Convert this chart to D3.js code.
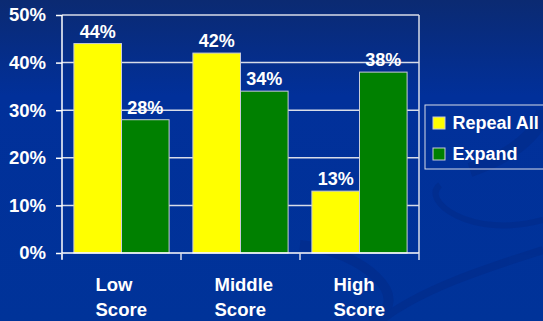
<!DOCTYPE html>
<html>
<head>
<meta charset="utf-8">
<script src="https://cdn.jsdelivr.net/npm/d3@7"></script>
<style>
  body { margin: 0; background: #003399; }
  svg { display: block; font-family: "Liberation Sans", Arial, sans-serif; font-weight: bold; }
</style>
</head>
<body>
<svg width="543" height="321"></svg>
<script>
// chart data
const categories = ['Low|Score', 'Middle|Score', 'High|Score'];
const seriesNames = ['Repeal All', 'Expand'];
const repealAll = [44, 42, 13];
const expand = [28, 34, 38];
const yTicks = [0, 10, 20, 30, 40, 50];
const colors = ['#ffff00', '#008000'];

(function () {
  const svg = d3.select('svg');
  const width = Number(svg.attr('width'));
  const height = Number(svg.attr('height'));

  // background gradient + swoosh
  const defs = svg.append('defs');
  const grad = defs.append('linearGradient')
    .attr('id', 'bg').attr('x1', 0).attr('y1', 0).attr('x2', 0).attr('y2', 1);
  grad.append('stop').attr('offset', '0%').attr('stop-color', '#0b2a72');
  grad.append('stop').attr('offset', '30%').attr('stop-color', '#01309a');
  grad.append('stop').attr('offset', '100%').attr('stop-color', '#003399');
  svg.append('rect').attr('width', width).attr('height', height).attr('fill', 'url(#bg)');

  const swoosh = svg.append('g').attr('fill', 'none').attr('stroke', '#022c8c').attr('opacity', 0.7);
  swoosh.append('path').attr('stroke-width', 10)
    .attr('d', 'M 300 245 C 360 250, 420 300, 370 321');
  swoosh.append('path').attr('stroke-width', 6)
    .attr('d', 'M 440 185 C 420 200, 470 240, 543 220');
  swoosh.append('path').attr('stroke-width', 8)
    .attr('d', 'M 543 250 C 480 270, 420 290, 380 321');
  swoosh.append('path').attr('stroke-width', 14)
    .attr('d', 'M 470 170 C 530 150, 543 120, 543 110');

  const margin = {left: 62, right: 419, top: 15, bottom: 253};

  const x = d3.scaleBand().domain(categories)
    .range([margin.left, margin.right]).paddingInner(0.2).paddingOuter(0.1);
  const xs = d3.scaleBand().domain(seriesNames).range([0, x.bandwidth()]);
  const y = d3.scaleLinear().domain([0, 50]).range([margin.bottom, margin.top]);

  const lineCol = '#d8dce8';

  // gridlines
  svg.append('g').selectAll('line').data(yTicks.slice(1)).join('line')
    .attr('x1', margin.left).attr('x2', margin.right)
    .attr('y1', d => y(d)).attr('y2', d => y(d))
    .attr('stroke', lineCol).attr('stroke-width', 1.5);
  // right frame
  svg.append('line').attr('x1', margin.right).attr('x2', margin.right)
    .attr('y1', margin.top).attr('y2', margin.bottom)
    .attr('stroke', lineCol).attr('stroke-width', 1.5);

  // bars
  const series = [repealAll, expand];
  series.forEach((vals, si) => {
    svg.append('g').selectAll('rect').data(vals).join('rect')
      .attr('x', (d, i) => x(categories[i]) + xs(seriesNames[si]))
      .attr('y', d => y(d))
      .attr('width', xs.bandwidth())
      .attr('height', d => y(0) - y(d))
      .attr('fill', colors[si])
      .attr('stroke', '#c8ccd8').attr('stroke-width', 1);
    svg.append('g').selectAll('text').data(vals).join('text')
      .attr('x', (d, i) => x(categories[i]) + xs(seriesNames[si]) + xs.bandwidth() / 2)
      .attr('y', d => y(d) - 6)
      .attr('text-anchor', 'middle').attr('fill', '#fff').attr('font-size', 18)
      .text(d => d + '%');
  });

  // y axis
  const yAxis = svg.append('g').attr('transform', `translate(${margin.left},0)`)
    .call(d3.axisLeft(y).tickValues(yTicks).tickFormat(d => d + '%').tickSize(6).tickPadding(10));
  yAxis.select('.domain').attr('stroke', '#fff').attr('stroke-width', 1.5)
    .attr('d', `M0,${margin.top}V${margin.bottom + 6}`);
  yAxis.selectAll('.tick line').attr('stroke', '#fff').attr('stroke-width', 1.5);
  yAxis.selectAll('.tick text').attr('fill', '#fff').attr('font-size', 18.5)
    .attr('font-weight', 'bold').attr('font-family', '"Liberation Sans", Arial, sans-serif');

  // x axis
  const xAxis = svg.append('g').attr('transform', `translate(0,${margin.bottom})`);
  xAxis.append('line').attr('x1', margin.left).attr('x2', margin.right)
    .attr('stroke', '#fff').attr('stroke-width', 1.5);
  const edges = categories.map(c => x(c) - x.step() * x.paddingOuter()).concat([margin.right]);
  xAxis.selectAll('.tk').data(edges).join('line').attr('class', 'tk')
    .attr('x1', d => d).attr('x2', d => d).attr('y1', 0).attr('y2', 7)
    .attr('stroke', lineCol).attr('stroke-width', 1.5);
  const labels = svg.append('g').selectAll('text').data(categories).join('text')
    .attr('fill', '#fff').attr('font-size', 18.5)
    .attr('x', d => x(d) + x.bandwidth() / 2 - 26)
    .attr('y', 291);
  labels.selectAll('tspan').data(d => d.split('|').map(t => ({t, c: d}))).join('tspan')
    .attr('x', d => x(d.c) + x.bandwidth() / 2 - 26)
    .attr('dy', (d, i) => i ? 25 : 0)
    .text(d => d.t);

  // legend
  const lg = svg.append('g').attr('transform', 'translate(425,105)');
  lg.append('rect').attr('width', 140).attr('height', 64)
    .attr('fill', 'none').attr('stroke', lineCol).attr('stroke-width', 1);
  seriesNames.forEach((n, i) => {
    lg.append('rect').attr('x', 8).attr('y', 12 + i * 31).attr('width', 12).attr('height', 12)
      .attr('fill', colors[i]).attr('stroke', '#c8ccd8');
    lg.append('text').attr('x', 27.5).attr('y', 23.5 + i * 31.5)
      .attr('fill', '#fff').attr('font-size', 18).text(n);
  });
})();
</script>
</body>
</html>
